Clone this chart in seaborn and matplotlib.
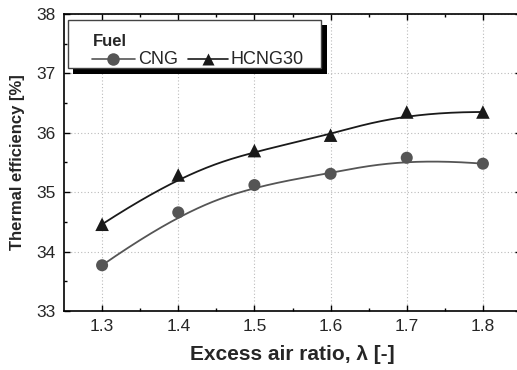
import numpy as np
import pandas as pd
import matplotlib
matplotlib.use("Agg")
import matplotlib.pyplot as plt
import seaborn as sns
from matplotlib.patches import Rectangle
from matplotlib.lines import Line2D

lam = [1.3, 1.4, 1.5, 1.6, 1.7, 1.8]
cng = [33.77, 34.66, 35.12, 35.31, 35.58, 35.48]
hcng30 = [34.46, 35.29, 35.70, 35.96, 36.35, 36.35]
series_names = ["CNG", "HCNG30"]
x_ticks = [1.3, 1.4, 1.5, 1.6, 1.7, 1.8]
y_ticks = [33, 34, 35, 36, 37, 38]

sns.set_theme(style="white")
plt.rcParams["font.family"] = ["Liberation Sans", "DejaVu Sans"]


def bspline_curve(x, y, n=300, k=3):
    """Clamped B-spline using the data points as control points (smoothing line)."""
    P = np.column_stack([np.asarray(x, float), np.asarray(y, float)])
    m = len(P)
    inner = np.linspace(0, 1, m - k + 1)
    t = np.concatenate([np.zeros(k), inner, np.ones(k)])
    u = np.linspace(0, 1, n)
    u[-1] = 1 - 1e-12
    # Cox-de Boor
    N = np.zeros((n, len(t) - 1))
    for i in range(len(t) - 1):
        N[:, i] = np.where((u >= t[i]) & (u < t[i + 1]), 1.0, 0.0)
    for d in range(1, k + 1):
        Nn = np.zeros((n, len(t) - 1 - d))
        for i in range(len(t) - 1 - d):
            a = 0.0
            den1 = t[i + d] - t[i]
            den2 = t[i + d + 1] - t[i + 1]
            term = np.zeros(n)
            if den1 > 0:
                term += (u - t[i]) / den1 * N[:, i]
            if den2 > 0:
                term += (t[i + d + 1] - u) / den2 * N[:, i + 1]
            Nn[:, i] = term
        N = Nn
    C = N @ P
    return C[:, 0], C[:, 1]


fig = plt.figure(figsize=(5.17, 3.70), dpi=100)
ax = fig.add_axes([64 / 517, 1 - 311 / 370, (521 - 64) / 517, (311 - 14) / 370])

colors = {"CNG": "#555555", "HCNG30": "#1a1a1a"}
markers = {"CNG": "o", "HCNG30": "^"}
sizes = {"CNG": 75, "HCNG30": 95}

for name, vals in zip(series_names, [cng, hcng30]):
    xs, ys = bspline_curve(lam, vals)
    ax.plot(xs, ys, color=colors[name], lw=1.3, zorder=3)
    d = pd.DataFrame({"lam": lam, "eff": vals})
    sns.scatterplot(data=d, x="lam", y="eff", color=colors[name], marker=markers[name],
                    s=sizes[name], edgecolor="none", ax=ax, legend=False, zorder=5)

ax.set_xlim(1.25, 1.85)
ax.set_ylim(33, 38)
ax.set_xticks(x_ticks)
ax.set_yticks(y_ticks)
ax.set_xticks([1.35, 1.45, 1.55, 1.65, 1.75], minor=True)
ax.set_yticks([33.5, 34.5, 35.5, 36.5, 37.5], minor=True)
ax.set_xticklabels([f"{v:.1f}" for v in x_ticks], fontsize=12.5)
ax.set_yticklabels([str(v) for v in y_ticks], fontsize=12.5)
ax.tick_params(which="both", direction="in", top=True, right=True, color="black",
               bottom=True, left=True)
ax.tick_params(which="major", length=4, width=1, pad=6)
ax.tick_params(which="minor", length=2.5, width=1)
ax.grid(True, which="major", linestyle=(0, (1, 2)), color="#bbbbbb", lw=0.8)
for s in ax.spines.values():
    s.set_color("black"); s.set_linewidth(1.2)
ax.set_xlabel("Excess air ratio, λ [-]", fontsize=15, fontweight="bold", labelpad=8)
ax.set_ylabel("Thermal efficiency [%]", fontsize=12, fontweight="bold", labelpad=8)


def fx(px):
    return px / 517


def fy(py):
    return 1 - py / 370


fig.patches.append(Rectangle((fx(73), fy(74)), fx(327) - fx(73), fy(62) - fy(74),
                             transform=fig.transFigure, facecolor="black", edgecolor="none", zorder=3))
fig.patches.append(Rectangle((fx(316), fy(74)), fx(327) - fx(316), fy(25) - fy(74),
                             transform=fig.transFigure, facecolor="black", edgecolor="none", zorder=3))
fig.patches.append(Rectangle((fx(68), fy(68)), fx(321) - fx(68), fy(20) - fy(68),
                             transform=fig.transFigure, facecolor="white", edgecolor="#444444",
                             lw=1.0, zorder=4))
fig.text(fx(93), fy(41), "Fuel", fontsize=12, fontweight="bold", va="center", ha="left", zorder=6)
yl = fy(59)
for (x0, x1, xm, name, tx) in [(92, 135, 113, "CNG", 138), (188, 228, 208, "HCNG30", 230)]:
    fig.lines.append(Line2D([fx(x0), fx(x1)], [yl, yl], transform=fig.transFigure,
                            color=colors[name], lw=1.2, zorder=6))
    fig.lines.append(Line2D([fx(xm)], [yl], transform=fig.transFigure, marker=markers[name],
                            color=colors[name], markersize=9, markeredgecolor="none", zorder=7))
    fig.text(fx(tx), yl, name, fontsize=13, va="center", ha="left", zorder=6)

fig.savefig("out.png", dpi=100)
